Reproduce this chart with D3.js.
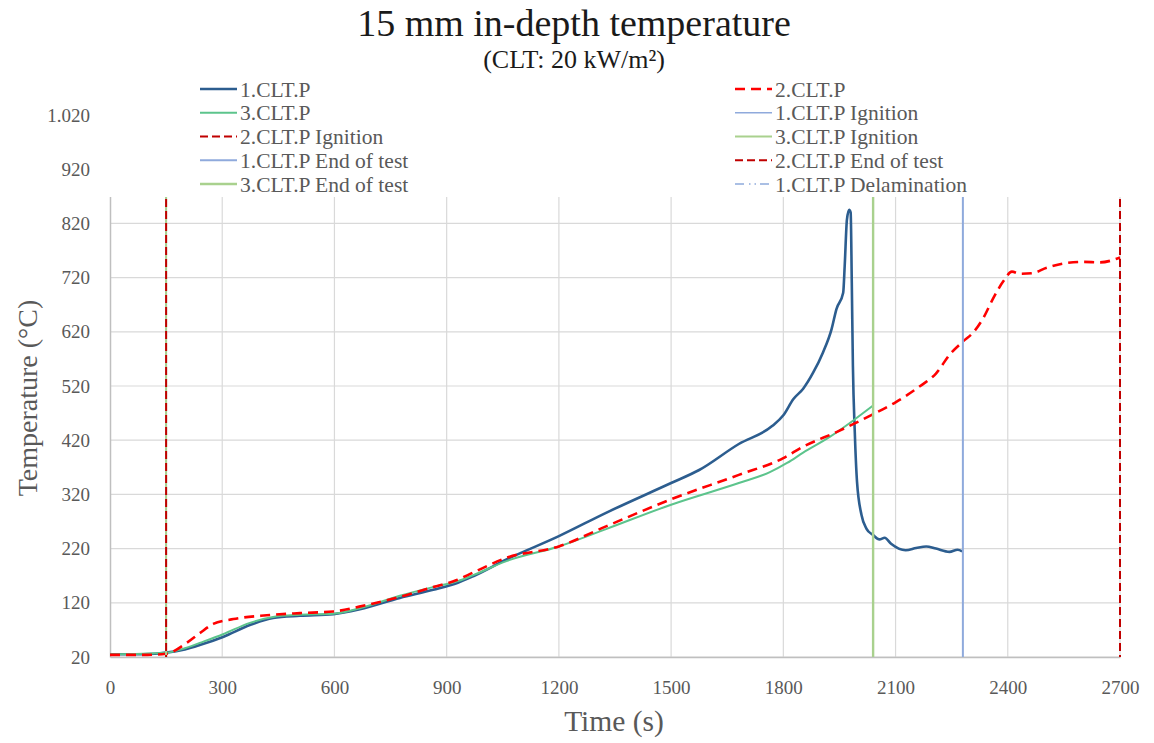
<!DOCTYPE html>
<html>
<head>
<meta charset="utf-8">
<script src="https://cdn.jsdelivr.net/npm/d3@7"></script>
<style>
  body { margin: 0; background: #fff; }
  svg, svg text { font-family: "Liberation Serif", "Times New Roman", serif; }
</style>
</head>
<body>
<div id="chart"></div>
<script>
// Axis ticks
const timeTicks = [0, 300, 600, 900, 1200, 1500, 1800, 2100, 2400, 2700];
const tempTicks = [20, 120, 220, 320, 420, 520, 620, 720, 820, 920, 1020];

// Measured series [time (s), temperature (°C)]
const clt1 = [
  [0, 25], [60, 25], [120, 26], [150, 28], [200, 34], [240, 42], [302, 57], [374, 79],
  [436, 92], [508, 96], [597, 99], [668, 108], [775, 129], [864, 144], [930, 157],
  [971, 169], [1060, 200], [1200, 243], [1326, 286], [1500, 341], [1575, 365],
  [1681, 413], [1770, 446], [1800, 466], [1827, 496], [1853, 515], [1880, 545],
  [1906, 582], [1929, 625], [1942, 662], [1960, 692], [1964, 741], [1970, 827],
  [1976, 845], [1980, 840], [1983, 711], [1986, 557], [1991, 435], [1997, 343],
  [2009, 282], [2022, 257], [2040, 245], [2057, 237], [2071, 240], [2088, 229],
  [2127, 217], [2155, 221], [2182, 224], [2208, 220], [2244, 214], [2266, 218], [2278, 215]
];
const clt2 = [
  [0, 24], [100, 24], [150, 26], [205, 46], [240, 64], [276, 81], [330, 90], [419, 97],
  [508, 101], [597, 104], [686, 116], [775, 131], [864, 149], [927, 162], [971, 176],
  [1060, 203], [1200, 224], [1326, 261], [1500, 311], [1681, 356], [1800, 387],
  [1853, 408], [1942, 435], [2040, 468], [2100, 490], [2166, 520], [2208, 543],
  [2246, 579], [2280, 602], [2308, 619], [2335, 646], [2362, 683], [2389, 714],
  [2411, 731], [2433, 727], [2464, 728], [2504, 738], [2548, 746], [2602, 749],
  [2646, 748], [2700, 757]
];
const clt3 = [
  [0, 25], [150, 28], [200, 36], [240, 46], [302, 62], [374, 83], [436, 94], [508, 98],
  [597, 100], [668, 110], [775, 133], [864, 149], [930, 160], [971, 171], [1060, 197],
  [1200, 224], [1326, 256], [1500, 301], [1681, 341], [1764, 361], [1810, 378],
  [1853, 397], [1924, 426], [1986, 456], [2040, 484]
];

// Event times per specimen (1, 2, 3)
const ignitionTimes = [150, 150, 150];
const endOfTestTimes = [2280, 2700, 2040];
const delaminationTimes = [];

const legendLabels = [
  '1.CLT.P', '2.CLT.P',
  '3.CLT.P', '1.CLT.P Ignition',
  '2.CLT.P Ignition', '3.CLT.P Ignition',
  '1.CLT.P End of test', '2.CLT.P End of test',
  '3.CLT.P End of test', '1.CLT.P Delamination'
];

class TemperatureChart {
  constructor(_config) {
    this.config = {
      parentElement: _config.parentElement,
      containerWidth: 1154,
      containerHeight: 743,
      margin: { top: 115, right: 34, bottom: 86, left: 110 },
      legendTop: 80,
      legendBottom: 197,
    };
    this.initVis();
  }

  initVis() {
    let vis = this;
    vis.width = vis.config.containerWidth - vis.config.margin.left - vis.config.margin.right;
    vis.height = vis.config.containerHeight - vis.config.margin.top - vis.config.margin.bottom;

    vis.svg = d3.select(vis.config.parentElement)
      .append('svg')
      .attr('width', vis.config.containerWidth)
      .attr('height', vis.config.containerHeight)
      .attr('font-family', '"Liberation Serif", serif');

    vis.chart = vis.svg.append('g')
      .attr('transform', `translate(${vis.config.margin.left},${vis.config.margin.top})`);

    vis.xScale = d3.scaleLinear().domain([0, 2700]).range([0, vis.width]);
    vis.yScale = d3.scaleLinear().domain([20, 1020]).range([vis.height, 0]);

    // European style thousands separator on the y axis (1.020)
    vis.tempFormat = d3.formatLocale({ decimal: ',', thousands: '.', grouping: [3], currency: ['', ''] }).format(',d');

    vis.line = d3.line()
      .x(d => vis.xScale(d[0]))
      .y(d => vis.yScale(d[1]))
      .curve(d3.curveMonotoneX);

    // line styles for every legend key
    vis.styles = {
      '1.CLT.P': { color: '#2c5d8f', width: 2.6, dash: null },
      '2.CLT.P': { color: '#ff0000', width: 2.6, dash: '10,6' },
      '3.CLT.P': { color: '#5cc48c', width: 2, dash: null },
      '1.CLT.P Ignition': { color: '#8faadc', width: 1.6, dash: null },
      '2.CLT.P Ignition': { color: '#c00000', width: 2, dash: '8,4' },
      '3.CLT.P Ignition': { color: '#a9d18e', width: 2, dash: null },
      '1.CLT.P End of test': { color: '#8faadc', width: 2, dash: null },
      '2.CLT.P End of test': { color: '#c00000', width: 2, dash: '8,4' },
      '3.CLT.P End of test': { color: '#a9d18e', width: 2.4, dash: null },
      '1.CLT.P Delamination': { color: '#8faadc', width: 1.6, dash: '9,5,1.5,4,1.5,4' },
    };

    vis.renderVis();
  }

  renderVis() {
    let vis = this;

    // gridlines
    vis.chart.append('g')
      .selectAll('line')
      .data(tempTicks)
      .join('line')
      .attr('x1', 0).attr('x2', vis.width)
      .attr('y1', d => vis.yScale(d)).attr('y2', d => vis.yScale(d))
      .attr('stroke', '#d9d9d9').attr('stroke-width', 1.2);

    vis.chart.append('g')
      .selectAll('line')
      .data(timeTicks.slice(1))
      .join('line')
      .attr('x1', d => vis.xScale(d)).attr('x2', d => vis.xScale(d))
      .attr('y1', 0).attr('y2', vis.height)
      .attr('stroke', '#d9d9d9').attr('stroke-width', 1.2);

    // axes
    const xAxis = d3.axisBottom(vis.xScale).tickValues(timeTicks).tickSize(0).tickPadding(24)
      .tickFormat(d3.format('d'));
    const yAxis = d3.axisLeft(vis.yScale).tickValues(tempTicks).tickSize(0).tickPadding(20)
      .tickFormat(vis.tempFormat);

    const xAxisG = vis.chart.append('g')
      .attr('transform', `translate(0,${vis.height})`)
      .call(xAxis);
    const yAxisG = vis.chart.append('g').call(yAxis);

    [xAxisG, yAxisG].forEach(g => {
      g.attr('font-family', null).attr('font-size', null);
      g.select('.domain').attr('stroke', '#bfbfbf').attr('stroke-width', 1.5);
      g.selectAll('text')
        .attr('fill', '#595959')
        .style('font-size', '19px');
    });

    // event lines (ignition / end of test); dark red dashes sit on top
    const eventLines = [];
    [0, 2, 1].forEach(i => {
      eventLines.push({ key: `${i + 1}.CLT.P Ignition`, t: ignitionTimes[i] });
      eventLines.push({ key: `${i + 1}.CLT.P End of test`, t: endOfTestTimes[i] });
    });
    delaminationTimes.forEach(t => eventLines.push({ key: '1.CLT.P Delamination', t }));

    // series
    const series = [
      { key: '1.CLT.P', values: clt1 },
      { key: '3.CLT.P', values: clt3 },
      { key: '2.CLT.P', values: clt2 },
    ];

    vis.chart.append('g')
      .selectAll('path')
      .data(series)
      .join('path')
      .attr('d', d => vis.line(d.values))
      .attr('fill', 'none')
      .attr('stroke', d => vis.styles[d.key].color)
      .attr('stroke-width', d => vis.styles[d.key].width)
      .attr('stroke-dasharray', d => vis.styles[d.key].dash)
      .attr('stroke-linejoin', 'round');

    vis.chart.append('g')
      .selectAll('line')
      .data(eventLines)
      .join('line')
      .attr('x1', d => vis.xScale(d.t)).attr('x2', d => vis.xScale(d.t))
      .attr('y1', 0).attr('y2', vis.height)
      .attr('stroke', d => vis.styles[d.key].color)
      .attr('stroke-width', d => vis.styles[d.key].width)
      .attr('stroke-dasharray', d => vis.styles[d.key].dash);

    // legend sits on a white box over the top of the plot
    vis.svg.append('rect')
      .attr('x', vis.config.margin.left - 2)
      .attr('y', vis.config.legendTop)
      .attr('width', vis.width + 10)
      .attr('height', vis.config.legendBottom - vis.config.legendTop)
      .attr('fill', '#fff');

    const legend = vis.svg.append('g')
      .selectAll('g')
      .data(legendLabels)
      .join('g')
      .attr('transform', (d, i) => `translate(${i % 2 === 0 ? 200 : 735},${89 + Math.floor(i / 2) * 23.75})`);

    legend.append('line')
      .attr('x1', 0).attr('x2', 37)
      .attr('stroke', d => vis.styles[d].color)
      .attr('stroke-width', d => vis.styles[d].width)
      .attr('stroke-dasharray', d => vis.styles[d].dash);

    legend.append('text')
      .attr('x', 40)
      .attr('dy', '.35em')
      .attr('fill', '#595959')
      .style('font-size', '21.5px')
      .text(d => d);

    // titles
    vis.svg.append('text')
      .attr('x', 574).attr('y', 36)
      .attr('text-anchor', 'middle')
      .attr('fill', '#1a1a1a')
      .style('font-size', '38px')
      .text('15 mm in-depth temperature');

    vis.svg.append('text')
      .attr('x', 574).attr('y', 68)
      .attr('text-anchor', 'middle')
      .attr('fill', '#1a1a1a')
      .style('font-size', '26px')
      .text('(CLT: 20 kW/m²)');

    vis.svg.append('text')
      .attr('x', 614).attr('y', 731)
      .attr('text-anchor', 'middle')
      .attr('fill', '#595959')
      .style('font-size', '29.5px')
      .text('Time (s)');

    vis.svg.append('text')
      .attr('transform', 'translate(37,398) rotate(-90)')
      .attr('text-anchor', 'middle')
      .attr('fill', '#595959')
      .style('font-size', '28px')
      .text('Temperature (°C)');
  }
}

new TemperatureChart({ parentElement: '#chart' });
</script>
</body>
</html>
